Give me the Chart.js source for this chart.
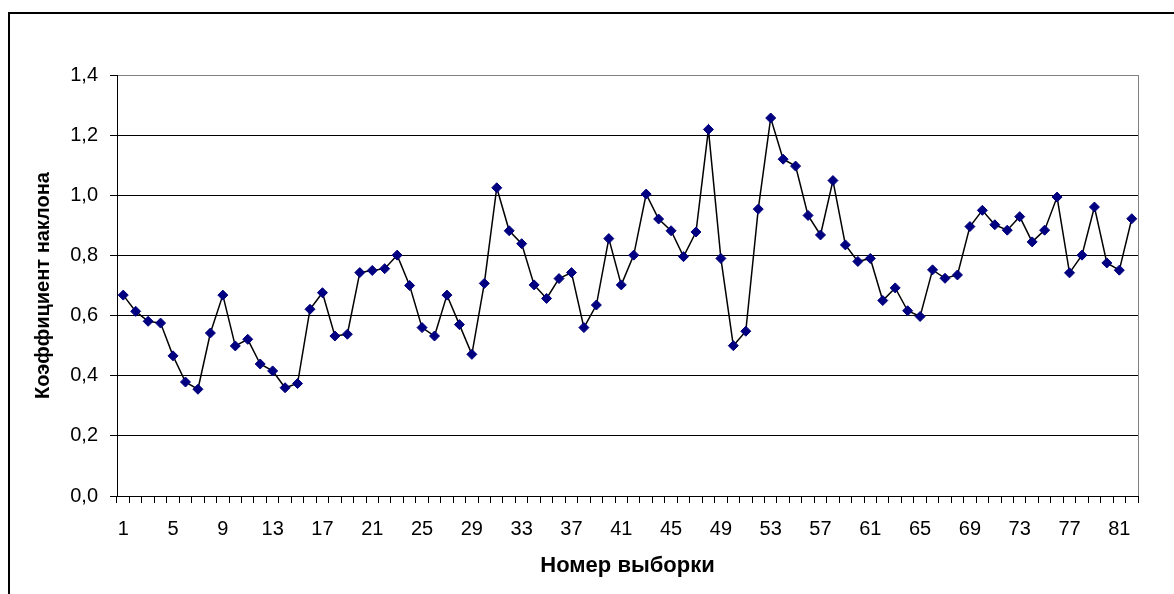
<!DOCTYPE html>
<html>
<head>
<meta charset="utf-8">
<title>Коэффициент наклона по выборкам</title>
<script src="https://cdn.jsdelivr.net/npm/chart.js@4/dist/chart.umd.min.js"></script>
<style>
  html, body { margin: 0; padding: 0; background: #ffffff; }
  #wrap { position: relative; width: 1174px; height: 594px; }
</style>
</head>
<body>
<div id="wrap"><canvas id="chart" width="1174" height="594"></canvas></div>
<script>
// Номера выборок (категории оси X)
const sampleNumbers = [
  1, 2, 3, 4, 5, 6, 7, 8, 9, 10, 11, 12, 13, 14, 15, 16, 17, 18, 19, 20,
  21, 22, 23, 24, 25, 26, 27, 28, 29, 30, 31, 32, 33, 34, 35, 36, 37, 38, 39, 40,
  41, 42, 43, 44, 45, 46, 47, 48, 49, 50, 51, 52, 53, 54, 55, 56, 57, 58, 59, 60,
  61, 62, 63, 64, 65, 66, 67, 68, 69, 70, 71, 72, 73, 74, 75, 76, 77, 78, 79, 80,
  81, 82
];

// Коэффициент наклона для каждой выборки
const slopeValues = [
  0.668, 0.614, 0.581, 0.575, 0.466, 0.379, 0.355, 0.542, 0.668, 0.499,
  0.521, 0.439, 0.416, 0.360, 0.374, 0.621, 0.676, 0.532, 0.538, 0.743,
  0.750, 0.756, 0.801, 0.700, 0.560, 0.532, 0.668, 0.570, 0.471, 0.707,
  1.025, 0.882, 0.839, 0.702, 0.657, 0.723, 0.743, 0.560, 0.635, 0.856,
  0.702, 0.801, 1.004, 0.921, 0.882, 0.796, 0.878, 1.219, 0.790, 0.500,
  0.548, 0.954, 1.257, 1.120, 1.097, 0.933, 0.868, 1.049, 0.835, 0.780,
  0.790, 0.650, 0.692, 0.616, 0.597, 0.752, 0.724, 0.735, 0.896, 0.950,
  0.902, 0.884, 0.929, 0.845, 0.884, 0.994, 0.742, 0.801, 0.961, 0.775,
  0.751, 0.922
];

// Подписанные деления оси X и значения делений оси Y
const xTickLabels = [1, 5, 9, 13, 17, 21, 25, 29, 33, 37, 41, 45, 49, 53, 57, 61, 65, 69, 73, 77, 81];
const yTickValues = [0, 0.2, 0.4, 0.6, 0.8, 1.0, 1.2, 1.4];

const xAxisTitle = 'Номер выборки';
const yAxisTitle = 'Коэффициент наклона';

const FONT = '"Liberation Sans", Arial, sans-serif';

// Рамка вокруг всей диаграммы и серая правая граница области построения
const framePlugin = {
  id: 'frame',
  beforeDraw(chart) {
    const ctx = chart.ctx;
    ctx.save();
    ctx.fillStyle = '#ffffff';
    ctx.fillRect(0, 0, chart.width, chart.height);
    ctx.strokeStyle = '#000000';
    ctx.lineWidth = 2;
    ctx.strokeRect(9, 13, chart.width + 50, chart.height + 50);
    ctx.restore();
  },
  beforeDatasetsDraw(chart) {
    const {ctx, chartArea} = chart;
    ctx.save();
    ctx.strokeStyle = '#808080';
    ctx.lineWidth = 1;
    const x = Math.round(chartArea.right) + 0.5;
    ctx.beginPath();
    ctx.moveTo(x, chartArea.top);
    ctx.lineTo(x, chartArea.bottom);
    ctx.stroke();
    ctx.restore();
  }
};

new Chart(document.getElementById('chart'), {
  type: 'line',
  data: {
    labels: sampleNumbers,
    datasets: [{
      data: slopeValues,
      borderColor: '#000000',
      borderWidth: 1.5,
      tension: 0,
      pointStyle: 'rectRot',
      pointRadius: 5,
      pointBorderWidth: 1,
      pointBackgroundColor: '#000080',
      pointBorderColor: '#000080',
      pointHoverRadius: 5
    }]
  },
  options: {
    responsive: false,
    animation: false,
    devicePixelRatio: 1,
    layout: { padding: { left: 0, right: 36, top: 75, bottom: 0 } },
    plugins: {
      legend: { display: false },
      tooltip: { enabled: false }
    },
    scales: {
      x: {
        type: 'category',
        offset: true,
        afterFit(scale) { scale.height = 98; },
        grid: {
          offset: true,
          drawOnChartArea: false,
          drawTicks: true,
          tickLength: 7,
          tickColor: '#000000',
          color: '#000000'
        },
        border: { display: true, color: '#000000', width: 1 },
        ticks: {
          autoSkip: false,
          maxRotation: 0,
          minRotation: 0,
          padding: 14,
          color: '#000000',
          font: { family: FONT, size: 20 },
          callback(value, index) {
            const n = sampleNumbers[index];
            return xTickLabels.includes(n) ? String(n) : '';
          }
        },
        title: {
          display: true,
          text: xAxisTitle,
          color: '#000000',
          font: { family: FONT, size: 22, weight: 'bold' },
          padding: { top: 0, bottom: 15 }
        }
      },
      y: {
        min: 0,
        max: 1.4,
        afterFit(scale) { scale.width = 117; },
        afterBuildTicks(scale) {
          scale.ticks = yTickValues.map(v => ({ value: v }));
        },
        grid: {
          drawTicks: true,
          tickLength: 7,
          tickColor: '#000000',
          lineWidth: 1,
          color(ctx) {
            return ctx.tick && Math.abs(ctx.tick.value - 1.4) < 1e-9 ? '#808080' : '#000000';
          }
        },
        border: { display: true, color: '#000000', width: 1 },
        ticks: {
          padding: 12,
          color: '#000000',
          font: { family: FONT, size: 20 },
          callback(value) {
            return Number(value).toFixed(1).replace('.', ',');
          }
        },
        title: {
          display: true,
          text: yAxisTitle,
          color: '#000000',
          font: { family: FONT, size: 20, weight: 'bold' },
          padding: { top: 31, bottom: 0 }
        }
      }
    }
  },
  plugins: [framePlugin]
});
</script>
</body>
</html>
